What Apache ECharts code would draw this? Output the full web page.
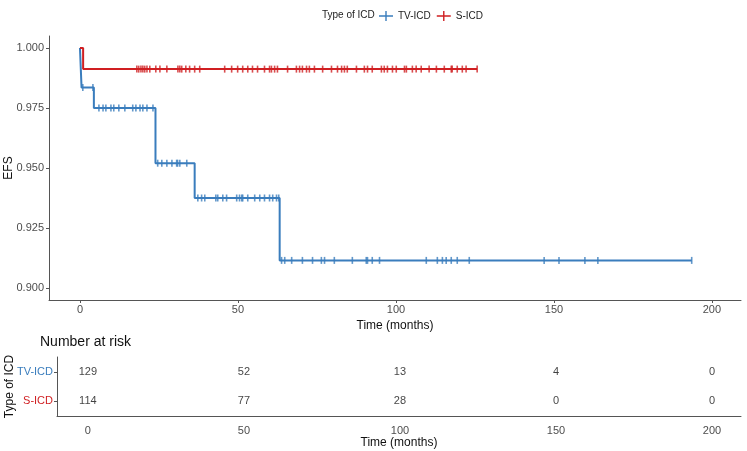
<!DOCTYPE html>
<html>
<head>
<meta charset="utf-8">
<script src="https://cdn.jsdelivr.net/npm/echarts@6/dist/echarts.min.js"></script>
<style>
  html, body { margin: 0; padding: 0; background: #fff; }
  #chart { width: 747px; height: 451px; }
</style>
</head>
<body>
<div id="chart"></div>
<script>
// survival curves (event times in months, survival after each event)
const tvEventTimes = [0.5, 4.4, 23.9, 36.3, 63.2]
const tvSurv = [0.9835, 0.975, 0.952, 0.9375, 0.9115]
const tvEnd = 193.6
const tvCensor = [0.9, 4.1,
  6.0, 7.3, 8.2, 9.8, 10.7, 12.3, 14.2, 16.7, 17.7, 19.0, 19.9, 21.2, 23.1,
  24.6, 25.9, 27.5, 29.1, 30.6, 30.9, 31.6, 33.8,
  37.3, 38.5, 39.5, 43.0, 43.6, 45.2, 46.4, 49.6, 50.5, 51.2, 51.5, 53.1, 55.3, 56.9, 58.4, 60.0, 61.0, 62.2, 62.9,
  63.8, 64.8, 67.0, 70.4, 73.6, 76.4, 77.4, 80.5, 86.2, 90.6, 91.0, 92.5, 94.8,
  109.6, 113.1, 114.7, 115.9, 117.5, 119.4, 123.2, 146.9, 151.6, 159.8, 163.9, 193.6]

const sEventTimes = [1.0]
const sSurv = [0.9912]
const sEnd = 125.7
const sCensor = [18.0, 18.6, 19.3, 19.9, 20.5, 21.2, 22.1,
  24.0, 25.3, 27.5, 31.0, 31.6, 32.2, 33.5, 34.7, 36.3, 37.9,
  45.8, 48.0, 49.9, 51.5, 53.1, 54.6, 56.2, 58.4, 60.0, 60.6, 61.6, 62.5,
  65.7, 68.5, 69.5, 70.4, 71.7, 72.6, 74.2, 76.8, 79.6, 81.5, 82.8, 83.7, 84.6,
  87.5, 90.0, 91.0, 92.5, 95.4, 96.3, 97.3, 98.9, 100.1, 102.7, 103.3, 105.2,
  106.4, 108.0, 110.5, 112.8, 115.3, 117.5, 117.8, 119.4, 121.0, 122.2, 125.7]

// number at risk table
const riskTimes = [0, 50, 100, 150, 200]
const riskTV = [129, 52, 13, 4, 0]
const riskS = [114, 77, 28, 0, 0]
const groups = ['TV-ICD', 'S-ICD']

const xTicks = [0, 50, 100, 150, 200]
const yTicks = [0.9, 0.925, 0.95, 0.975, 1.0]

const blue = '#3a7dbd'
const red = '#d01f22'
const axisColor = '#555'
const tickText = '#4d4d4d'

function stepData(times, surv, end) {
  const pts = [[0, 1]]
  times.forEach((t, i) => pts.push([t, surv[i]]))
  pts.push([end, surv[surv.length - 1]])
  return pts
}

function survAt(t, times, surv) {
  let s = 1
  times.forEach((et, i) => { if (t >= et) s = surv[i] })
  return s
}

const plusIcon = 'path://M0,4.2 L14,4.2 L14,5.8 L0,5.8 Z M6.3,0 L7.7,0 L7.7,10 L6.3,10 Z'

const chart = echarts.init(document.getElementById('chart'), null, { renderer: 'canvas' })

const option = {
  backgroundColor: '#fff',
  animation: false,
  textStyle: { fontFamily: 'Liberation Sans, Arial, sans-serif' },
  legend: {
    left: 374,
    top: 6,
    itemWidth: 14,
    itemHeight: 10,
    itemGap: 6,
    textStyle: { fontSize: 10, color: '#222' },
    data: [
      { name: 'TV-ICD', icon: plusIcon, itemStyle: { color: blue } },
      { name: 'S-ICD', icon: plusIcon, itemStyle: { color: red } }
    ]
  },
  graphic: [
    { type: 'text', left: 322, top: 10, style: { text: 'Type of ICD', fontSize: 10, fill: '#222', fontFamily: 'Liberation Sans, Arial, sans-serif' } },
    { type: 'text', left: 40, top: 335, style: { text: 'Number at risk', fontSize: 14, fill: '#111', fontFamily: 'Liberation Sans, Arial, sans-serif' } }
  ],
  grid: [
    { left: 49, right: 6, top: 36, height: 264, containLabel: false, outerBoundsMode: 'none' },
    { left: 57, right: 6, top: 357, height: 59, containLabel: false, outerBoundsMode: 'none' }
  ],
  xAxis: [
    {
      type: 'value', gridIndex: 0, min: -9.8, max: 209.2,
      name: 'Time (months)', nameLocation: 'middle', nameGap: 17,
      nameTextStyle: { fontSize: 12, color: '#111' },
      axisLine: { show: true, onZero: false, lineStyle: { color: axisColor } },
      axisTick: { show: true, customValues: xTicks, length: 3, lineStyle: { color: axisColor } },
      axisLabel: { customValues: xTicks, fontSize: 11, color: tickText, margin: 4 },
      splitLine: { show: false }
    },
    {
      type: 'value', gridIndex: 1, min: -9.9, max: 209.3,
      name: 'Time (months)', nameLocation: 'middle', nameGap: 19,
      nameTextStyle: { fontSize: 12, color: '#111' },
      axisLine: { show: true, onZero: false, lineStyle: { color: axisColor } },
      axisTick: { show: false, customValues: riskTimes },
      axisLabel: { customValues: riskTimes, fontSize: 11, color: tickText, margin: 9 },
      splitLine: { show: false }
    }
  ],
  yAxis: [
    {
      type: 'value', gridIndex: 0, min: 0.895, max: 1.005,
      name: 'EFS', nameLocation: 'middle', nameGap: 34, nameMoveOverlap: false,
      nameTextStyle: { fontSize: 12, color: '#111' },
      axisLine: { show: true, onZero: false, lineStyle: { color: axisColor } },
      axisTick: { show: true, customValues: yTicks, length: 3, lineStyle: { color: axisColor } },
      axisLabel: { customValues: yTicks, fontSize: 11, color: tickText, margin: 5, formatter: (v) => v.toFixed(3) },
      splitLine: { show: false }
    },
    {
      type: 'category', gridIndex: 1, data: ['S-ICD', 'TV-ICD'],
      name: 'Type of ICD', nameLocation: 'middle', nameGap: 41, nameMoveOverlap: false,
      nameTextStyle: { fontSize: 12, color: '#111' },
      axisLine: { show: true, onZero: false, lineStyle: { color: axisColor } },
      axisTick: { show: true, alignWithLabel: true, length: 3, lineStyle: { color: axisColor } },
      axisLabel: { fontSize: 11, margin: 4, color: (v) => (v === 'TV-ICD' ? blue : red) },
      splitLine: { show: false }
    }
  ],
  series: [
    {
      name: 'TV-ICD', type: 'line', step: 'end', xAxisIndex: 0, yAxisIndex: 0,
      showSymbol: false, data: stepData(tvEventTimes, tvSurv, tvEnd),
      lineStyle: { color: blue, width: 2 }, itemStyle: { color: blue }, z: 2
    },
    {
      name: 'S-ICD', type: 'line', step: 'end', xAxisIndex: 0, yAxisIndex: 0,
      showSymbol: false, data: stepData(sEventTimes, sSurv, sEnd),
      lineStyle: { color: red, width: 2 }, itemStyle: { color: red }, z: 3
    },
    {
      name: 'TV-ICD', type: 'scatter', xAxisIndex: 0, yAxisIndex: 0,
      symbol: 'rect', symbolSize: [1.6, 7],
      data: tvCensor.map((t) => [t, survAt(t, tvEventTimes, tvSurv)]),
      itemStyle: { color: blue }, z: 4
    },
    {
      name: 'S-ICD', type: 'scatter', xAxisIndex: 0, yAxisIndex: 0,
      symbol: 'rect', symbolSize: [1.6, 7],
      data: sCensor.map((t) => [t, survAt(t, sEventTimes, sSurv)]),
      itemStyle: { color: red }, z: 5
    },
    {
      type: 'scatter', xAxisIndex: 1, yAxisIndex: 1, symbolSize: 0,
      data: riskTimes.map((t, i) => [t, groups[0], riskTV[i]])
        .concat(riskTimes.map((t, i) => [t, groups[1], riskS[i]])),
      itemStyle: { color: 'transparent' },
      label: {
        show: true, position: 'inside', fontSize: 11, color: '#111',
        formatter: (p) => String(p.value[2])
      }
    }
  ]
}

chart.setOption(option)
</script>
</body>
</html>
